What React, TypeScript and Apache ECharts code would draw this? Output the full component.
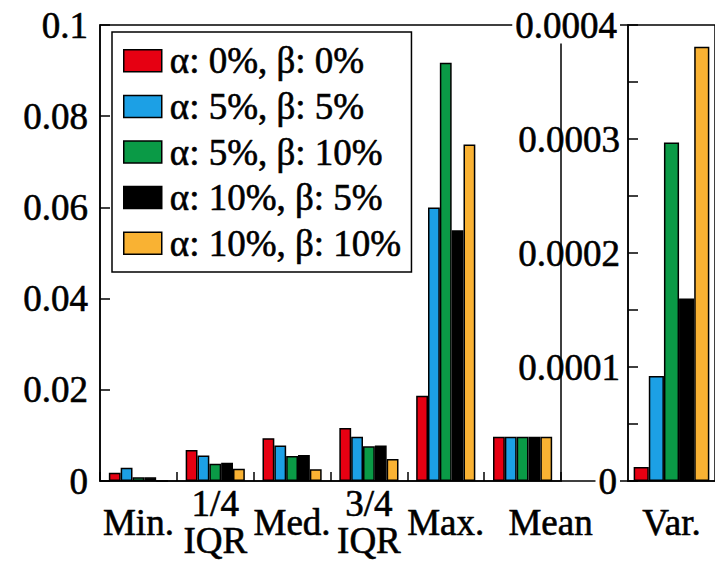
import React, { useEffect, useRef } from "react";
import * as echarts from "echarts";

const categories = ["Min.", "1/4\nIQR", "Med.", "3/4\nIQR", "Max.", "Mean"];
const varCategories = ["Var."];
const seriesNames = [
  "α: 0%, β: 0%",
  "α: 5%, β: 5%",
  "α: 5%, β: 10%",
  "α: 10%, β: 5%",
  "α: 10%, β: 10%",
];
const seriesColors = ["#e60012", "#1ca0e5", "#0a9a46", "#000000", "#f9b233"];

const redValues = [0.0018, 0.0068, 0.0094, 0.0116, 0.0187, 0.0097];
const blueValues = [0.0029, 0.0056, 0.0078, 0.0097, 0.06, 0.0097];
const greenValues = [0.0008, 0.0038, 0.0055, 0.0076, 0.0917, 0.0097];
const blackValues = [0.0008, 0.004, 0.0057, 0.0078, 0.055, 0.0097];
const yellowValues = [0, 0.0027, 0.0026, 0.0048, 0.0738, 0.0097];
const leftValues = [redValues, blueValues, greenValues, blackValues, yellowValues];

const varianceValues = [0.0000123, 0.0000921, 0.000297, 0.00016, 0.000381];

const leftTicks = { min: 0, max: 0.1, interval: 0.02 };
const rightTicks = { min: 0, max: 0.0004, interval: 0.0001 };

const FONT = "Liberation Serif";
const FS = 37;

function fmt(v: number): string {
  return String(parseFloat(v.toFixed(6)));
}

export default function App() {
  const ref = useRef<HTMLDivElement>(null);
  useEffect(() => {
    if (!ref.current) return;
    const chart = echarts.init(ref.current, undefined, { renderer: "svg" });
    const axisLine = { show: true, lineStyle: { color: "#000", width: 1.5 } };
    const labelBase = {
      color: "#000",
      fontFamily: FONT,
      fontSize: FS,
      textBorderColor: "#000",
      textBorderWidth: 0.6,
    };
    const barCommon = {
      type: "bar",
      barGap: "0%",
      itemStyle: { borderColor: "#000", borderWidth: 1.5 },
    };
    const series: any[] = [];
    seriesNames.forEach((name, i) => {
      series.push({
        ...barCommon,
        name,
        xAxisIndex: 0,
        yAxisIndex: 0,
        barCategoryGap: "23%",
        data: leftValues[i],
        itemStyle: { ...barCommon.itemStyle, color: seriesColors[i] },
      });
    });
    seriesNames.forEach((name, i) => {
      series.push({
        ...barCommon,
        name,
        xAxisIndex: 1,
        yAxisIndex: 1,
        barCategoryGap: "13%",
        data: [varianceValues[i]],
        itemStyle: { ...barCommon.itemStyle, color: seriesColors[i] },
      });
    });
    chart.setOption({
      animation: false,
      backgroundColor: "#fff",
      textStyle: { fontFamily: FONT },
      grid: [
        {
          left: 100,
          top: 25,
          width: 461,
          height: 456,
          show: true,
          borderColor: "#000",
          borderWidth: 1.5,
        },
        {
          left: 628,
          top: 25,
          width: 90,
          height: 456,
          show: true,
          borderColor: "#000",
          borderWidth: 1.5,
        },
      ],
      legend: {
        data: seriesNames,
        orient: "vertical",
        left: 112,
        top: 32,
        padding: [10, 10, 10, 11],
        itemWidth: 38,
        itemHeight: 22,
        itemGap: 8,
        icon: "rect",
        backgroundColor: "#fff",
        borderColor: "#000",
        borderWidth: 1.5,
        textStyle: { ...labelBase, lineHeight: 36, padding: [0, 0, 0, 3] },
        itemStyle: { borderColor: "#000", borderWidth: 1.5 },
        z: 10,
      },
      xAxis: [
        {
          type: "category",
          gridIndex: 0,
          data: categories,
          axisLine,
          axisTick: { show: true, inside: true, length: 9, alignWithLabel: false, lineStyle: { color: "#000", width: 1.5 } },
          axisLabel: {
            ...labelBase,
            interval: 0,
            margin: 41,
            verticalAlign: "middle",
            lineHeight: 37,
            formatter: (v: string) => (v === "Mean" ? "{m|Mean}" : v),
            rich: { m: { ...labelBase, padding: [0, 0, 0, 56] } },
          },
          splitLine: { show: false },
        },
        {
          type: "category",
          gridIndex: 1,
          data: varCategories,
          axisLine,
          axisTick: { show: false },
          axisLabel: { ...labelBase, interval: 0, margin: 41, verticalAlign: "middle" },
          splitLine: { show: false },
        },
      ],
      yAxis: [
        {
          type: "value",
          gridIndex: 0,
          ...leftTicks,
          axisLine,
          axisTick: { show: true, inside: true, length: 10, lineStyle: { color: "#000", width: 1.5 } },
          axisLabel: { ...labelBase, margin: 12, formatter: (v: number) => fmt(v) },
          splitLine: { show: false },
        },
        {
          type: "value",
          gridIndex: 1,
          ...rightTicks,
          axisLine,
          axisTick: { show: true, inside: true, length: 10, lineStyle: { color: "#000", width: 1.5 } },
          minorTick: { show: true, splitNumber: 2, length: 10, lineStyle: { color: "#000", width: 1.5 } },
          axisLabel: {
            ...labelBase,
            margin: 8,
            formatter: (v: number) => {
              const s = fmt(v);
              return v === 0 || v >= 0.0004 - 1e-9 ? `{w|${s}}` : s;
            },
            rich: { w: { ...labelBase, backgroundColor: "#fff", padding: [0, 3] } },
          },
          splitLine: { show: false },
        },
      ],
      graphic: [
        {
          type: "line",
          shape: { x1: 561, y1: 25, x2: 628, y2: 25 },
          style: { stroke: "#000", lineWidth: 1.5 },
          z: 0,
        },
        {
          type: "line",
          shape: { x1: 561, y1: 481, x2: 628, y2: 481 },
          style: { stroke: "#000", lineWidth: 1.5 },
          z: 0,
        },
      ],
      series,
    });
    return () => chart.dispose();
  }, []);
  return (
    <div
      ref={ref}
      style={{ position: "absolute", left: 0, top: 0, width: 715, height: 562 }}
    />
  );
}
